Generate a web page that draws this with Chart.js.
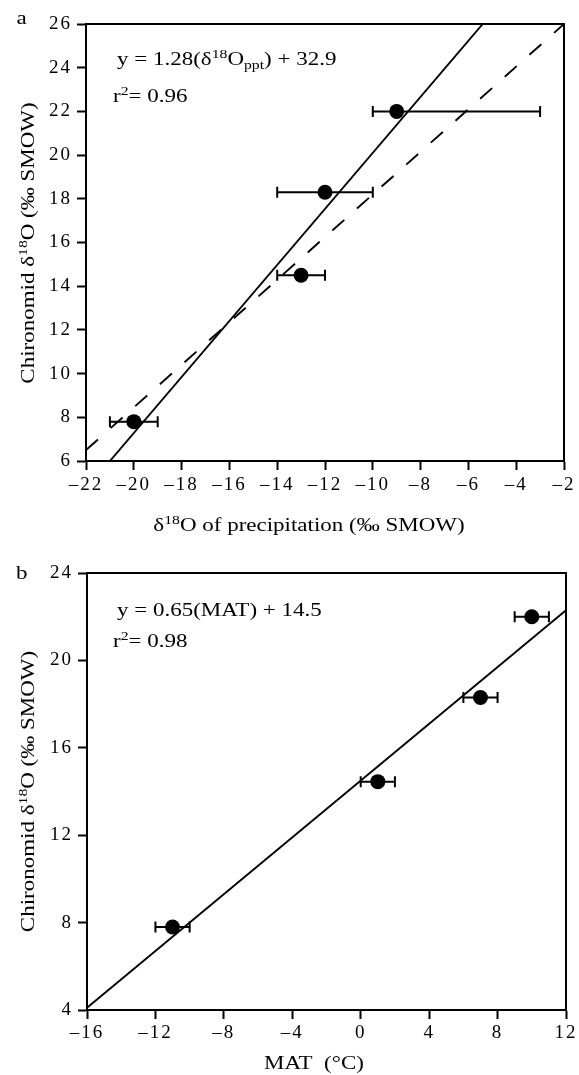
<!DOCTYPE html>
<html><head><meta charset="utf-8">
<script src="https://cdn.jsdelivr.net/npm/chart.js@4.4.0/dist/chart.umd.min.js"></script>
<style>
html,body{margin:0;padding:0;background:#fff;}
#wrap{width:579px;height:1075px;position:relative;overflow:hidden;}
canvas{position:absolute;left:0;}
</style></head><body>
<div id="wrap">
<canvas id="ca" width="579" height="545" style="top:0;width:579px;height:545px"></canvas>
<canvas id="cb" width="579" height="530" style="top:545px;width:579px;height:530px"></canvas>
</div>
<script>
// ---------- data: panel a ----------
const aPrecip   = [-20, -13, -12, -9];
const aChiro    = [7.8, 14.5, 18.3, 22.0];
const aErrLow   = [-21, -14, -14, -10];
const aErrHigh  = [-19, -12, -10, -3];
const aFitX     = [-21.0, -5.4];
const aFitY     = [6, 26];
const aDashX    = [-22, -2];
const aDashY    = [6.5, 26];
const aXAxis    = {min: -22, max: -2, step: 2};
const aYAxis    = {min: 6, max: 26, step: 2};
// ---------- data: panel b ----------
const bMat      = [-11, 1, 7, 10];
const bChiro    = [7.8, 14.45, 18.3, 22.0];
const bErrLow   = [-12, 0, 6, 9];
const bErrHigh  = [-10, 2, 8, 11];
const bFitX     = [-16, 12];
const bFitY     = [4.1, 22.3];
const bXAxis    = {min: -16, max: 12, step: 4};
const bYAxis    = {min: 4, max: 24, step: 4};

const FAM = '"Liberation Serif", "Times New Roman", serif';
const SX = 1.21;

function fmt(v){ return v < 0 ? '\u2013' + Math.abs(v) : String(v); }

function drawRich(ctx, parts, x, y, opt){
  opt = opt || {};
  ctx.save();
  ctx.letterSpacing = '0px';
  ctx.fillStyle = '#000';
  ctx.textBaseline = 'alphabetic';
  ctx.textAlign = 'left';
  ctx.translate(x, y);
  if (opt.rot) ctx.rotate(opt.rot);
  ctx.scale(SX, 1);
  const big = '19px ' + FAM, small = '13px ' + FAM;
  let W = 0;
  parts.forEach(p => { ctx.font = p.s ? small : big; p.w = ctx.measureText(p.t).width; W += p.w; });
  let cur = opt.center ? -W/2 : 0;
  parts.forEach(p => {
    ctx.font = p.s ? small : big;
    const dy = p.s === 'sup' ? -7 : (p.s === 'sub' ? 4 : 0);
    ctx.fillText(p.t, cur, dy);
    cur += p.w;
  });
  ctx.restore();
}

const spacingPlugin = {
  id: 'spacing',
  beforeDraw(chart){ chart.ctx.letterSpacing = '2px'; }
};

const errPlugin = {
  id: 'errbars',
  beforeDatasetsDraw(chart, args, o){
    const ctx = chart.ctx, xs = chart.scales.x, ys = chart.scales.y;
    ctx.save();
    ctx.strokeStyle = '#000'; ctx.lineWidth = 2;
    o.y.forEach((yv, i) => {
      const py = ys.getPixelForValue(yv);
      const x1 = xs.getPixelForValue(o.low[i]), x2 = xs.getPixelForValue(o.high[i]);
      ctx.beginPath();
      ctx.moveTo(x1, py); ctx.lineTo(x2, py);
      ctx.moveTo(x1, py - 5.5); ctx.lineTo(x1, py + 5.5);
      ctx.moveTo(x2, py - 5.5); ctx.lineTo(x2, py + 5.5);
      ctx.stroke();
    });
    ctx.restore();
  }
};

const framePlugin = {
  id: 'frame',
  afterDraw(chart){
    const ctx = chart.ctx, a = chart.chartArea;
    ctx.save();
    ctx.strokeStyle = '#000'; ctx.lineWidth = 2;
    ctx.beginPath();
    ctx.moveTo(a.left - 1, a.top); ctx.lineTo(a.right, a.top); ctx.lineTo(a.right, a.bottom + 1);
    ctx.stroke();
    ctx.restore();
  }
};

const textPlugin = {
  id: 'texts',
  afterDraw(chart, args, o){
    const ctx = chart.ctx;
    (o.items || []).forEach(it => drawRich(ctx, it.parts, it.x, it.y, it));
  }
};

function axis(r, fit, pad){
  return {
    type: 'linear', min: r.min, max: r.max,
    ticks: { stepSize: r.step, color: '#000', font: {family: FAM, size: 19}, padding: pad,
             autoSkip: false, maxRotation: 0, callback: v => fmt(v) },
    grid: { display: true, drawOnChartArea: false, drawTicks: true, tickLength: 9,
            tickWidth: 2, tickColor: '#000' },
    border: { display: true, color: '#000', width: 2 },
    afterFit: fit
  };
}

function makeChart(id, d){
  return new Chart(document.getElementById(id), {
    type: 'scatter',
    data: { datasets: d.datasets },
    options: {
      responsive: false, animation: false, devicePixelRatio: 1,
      layout: { padding: d.padding },
      scales: {
        x: axis(d.xr, s => { s.height = d.xh; }, d.xpad),
        y: axis(d.yr, s => { s.width = d.yw; }, 5)
      },
      plugins: {
        legend: {display: false}, tooltip: {enabled: false},
        errbars: d.err,
        texts: { items: d.texts }
      }
    },
    plugins: [spacingPlugin, errPlugin, framePlugin, textPlugin]
  });
}

function pts(xs, ys){ return xs.map((x, i) => ({x: x, y: ys[i]})); }
const ptStyle = { pointRadius: 7.5, pointHoverRadius: 7.5, pointBackgroundColor: '#000', pointBorderWidth: 0, showLine: false };
const lnStyle = { showLine: true, pointRadius: 0, borderColor: '#000', borderWidth: 1.9, fill: false };

const yTitleParts = [{t: 'Chironomid \u03b4'}, {t: '18', s: 'sup'}, {t: 'O (\u2030 SMOW)'}];

makeChart('ca', {
  padding: {left: 0, right: 15, top: 24, bottom: 0},
  xr: aXAxis, yr: aYAxis, xh: 84, yw: 86, xpad: 4,
  datasets: [
    Object.assign({ data: pts(aPrecip, aChiro) }, ptStyle),
    Object.assign({ data: pts(aFitX, aFitY) }, lnStyle),
    Object.assign({ data: pts(aDashX, aDashY), borderDash: [16, 17] }, lnStyle)
  ],
  err: { y: aChiro, low: aErrLow, high: aErrHigh },
  texts: [
    {parts: [{t: 'a'}], x: 16.5, y: 24},
    {parts: [{t: 'y = 1.28(\u03b4'}, {t: '18', s: 'sup'}, {t: 'O'}, {t: 'ppt', s: 'sub'}, {t: ') + 32.9'}], x: 117, y: 64.5},
    {parts: [{t: 'r'}, {t: '2', s: 'sup'}, {t: '= 0.96'}], x: 113, y: 101.5},
    {parts: [{t: '\u03b4'}, {t: '18', s: 'sup'}, {t: 'O of precipitation (\u2030 SMOW)'}], x: 309, y: 531, center: true},
    {parts: yTitleParts, x: 34, y: 243, center: true, rot: -Math.PI/2}
  ]
});

makeChart('cb', {
  padding: {left: 0, right: 13, top: 28, bottom: 0},
  xr: bXAxis, yr: bYAxis, xh: 65, yw: 87, xpad: 3,
  datasets: [
    Object.assign({ data: pts(bMat, bChiro) }, ptStyle),
    Object.assign({ data: pts(bFitX, bFitY) }, lnStyle)
  ],
  err: { y: bChiro, low: bErrLow, high: bErrHigh },
  texts: [
    {parts: [{t: 'b'}], x: 16, y: 34.3},
    {parts: [{t: 'y = 0.65(MAT) + 14.5'}], x: 117, y: 71},
    {parts: [{t: 'r'}, {t: '2', s: 'sup'}, {t: '= 0.98'}], x: 113, y: 101.7},
    {parts: [{t: 'MAT  (\u00b0C)'}], x: 314, y: 524, center: true},
    {parts: yTitleParts, x: 34, y: 246.5, center: true, rot: -Math.PI/2}
  ]
});
</script>
</body></html>
